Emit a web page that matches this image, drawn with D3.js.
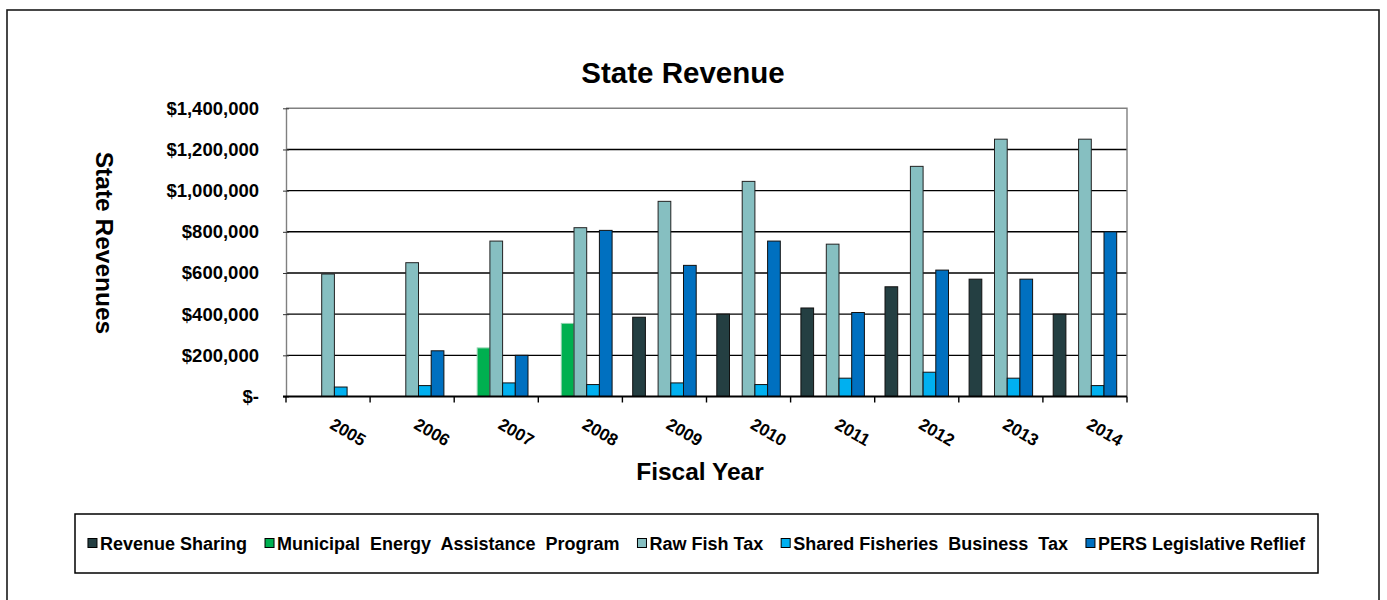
<!DOCTYPE html>
<html>
<head>
<meta charset="utf-8">
<script src="https://cdn.jsdelivr.net/npm/d3@7"></script>
<style>
  html, body { margin: 0; padding: 0; background: #fff; }
  svg { display: block; font-family: "Liberation Sans", Arial, sans-serif; font-weight: bold; }
</style>
</head>
<body>
<svg id="chart" width="1387" height="600"></svg>
<script>
// Fiscal years on the category axis
const years = ["2005", "2006", "2007", "2008", "2009", "2010", "2011", "2012", "2013", "2014"];

// State revenue by program (dollars); null = no payment that year
const revenueSharing = [null, null, null, null, 385000, 400000, 430000, 533000, 570000, 400000];
const energyAssistance = [null, null, 236000, 355000, null, null, null, null, null, null];
const rawFishTax = [595000, 650000, 755000, 820000, 948000, 1045000, 740000, 1118000, 1250000, 1250000];
const sharedFisheriesTax = [46000, 53000, 66000, 58000, 66000, 58000, 89000, 118000, 89000, 53000];
const persRelief = [null, 222000, 200000, 807000, 637000, 755000, 408000, 614000, 570000, 800000];

const seriesNames = ["Revenue Sharing", "Municipal  Energy  Assistance  Program", "Raw Fish Tax",
                     "Shared Fisheries  Business  Tax", "PERS Legislative Reflief"];
const seriesValues = [revenueSharing, energyAssistance, rawFishTax, sharedFisheriesTax, persRelief];
const seriesColors = ["#243F42", "#00B050", "#86BFC1", "#00B0F0", "#0070C0"];
const seriesStrokes = ["#111", "#8FD3AE", "#222", "#111", "#111"];

const yTicks = [0, 200000, 400000, 600000, 800000, 1000000, 1200000, 1400000];

const svg = d3.select("#chart");
const plot = { left: 286, right: 1127, top: 108.3, bottom: 396.5 };

// Outer chart frame
svg.append("rect")
  .attr("x", 7).attr("y", 10).attr("width", 1372).attr("height", 610)
  .attr("fill", "#fff").attr("stroke", "#1a1a1a").attr("stroke-width", 1.6);

const x = d3.scaleBand().domain(years).range([plot.left, plot.right])
  .paddingInner(0.245).paddingOuter(0.1225);
const xs = d3.scaleBand().domain(d3.range(seriesNames.length)).range([0, x.bandwidth()]);
const y = d3.scaleLinear().domain([0, 1400000]).range([plot.bottom, plot.top]);

// Title
svg.append("text")
  .attr("x", 683).attr("y", 83)
  .attr("text-anchor", "middle")
  .attr("font-size", 29.5)
  .text("State Revenue");

// Horizontal gridlines
svg.append("g").selectAll("line")
  .data(yTicks.filter(v => v > 0 && v < 1400000))
  .join("line")
  .attr("x1", plot.left).attr("x2", plot.right)
  .attr("y1", d => y(d)).attr("y2", d => y(d))
  .attr("stroke", "#000").attr("stroke-width", 1.4);

// Plot area border (top and right)
svg.append("path")
  .attr("d", `M${plot.left},${y(1400000)}H${plot.right}V${plot.bottom}`)
  .attr("fill", "none").attr("stroke", "#808080").attr("stroke-width", 1.4);

// Bars
const barData = [];
seriesValues.forEach((vals, s) => {
  vals.forEach((v, i) => {
    if (v != null) barData.push({ s, year: years[i], v });
  });
});
svg.append("g").selectAll("rect")
  .data(barData)
  .join("rect")
  .attr("x", d => x(d.year) + xs(d.s))
  .attr("width", xs.bandwidth())
  .attr("y", d => y(d.v))
  .attr("height", d => y(0) - y(d.v))
  .attr("fill", d => seriesColors[d.s])
  .attr("stroke", d => seriesStrokes[d.s])
  .attr("stroke-width", 1);

// Y axis
const yAxis = svg.append("g")
  .attr("transform", `translate(${plot.left},0)`)
  .call(d3.axisLeft(y)
    .tickValues(yTicks)
    .tickSizeInner(3).tickSizeOuter(0)
    .tickPadding(24)
    .tickFormat(d => d === 0 ? "$-" : d3.format("$,")(d)));
yAxis.select(".domain").attr("stroke", "#808080").attr("stroke-width", 1.4);
yAxis.selectAll(".tick line").attr("x1", 3).attr("x2", -3).attr("stroke", "#333");
yAxis.selectAll(".tick text")
  .attr("font-size", 18.5).attr("font-weight", "bold")
  .attr("font-family", "'Liberation Sans', Arial, sans-serif").attr("fill", "#000");

// X axis line and category boundary ticks
const boundaries = years.map(d => x(d) - x.step() * x.paddingOuter()).concat([plot.right]);
svg.append("g").selectAll("line")
  .data(boundaries)
  .join("line")
  .attr("x1", d => d).attr("x2", d => d)
  .attr("y1", plot.bottom).attr("y2", plot.bottom + 6)
  .attr("stroke", "#000").attr("stroke-width", 1.4);
svg.append("line")
  .attr("x1", plot.left - 3).attr("x2", plot.right)
  .attr("y1", plot.bottom).attr("y2", plot.bottom)
  .attr("stroke", "#000").attr("stroke-width", 2.2);

// Rotated year labels
svg.append("g").selectAll("text")
  .data(years)
  .join("text")
  .attr("transform", d => `translate(${x(d) + x.bandwidth() / 2 + 20},432) rotate(30)`)
  .attr("text-anchor", "middle")
  .attr("dy", "0.35em")
  .attr("font-size", 17)
  .text(d => d);

// Axis titles
svg.append("text")
  .attr("x", 700).attr("y", 480)
  .attr("text-anchor", "middle")
  .attr("font-size", 24.5)
  .text("Fiscal Year");

svg.append("text")
  .attr("transform", "translate(105,243) rotate(90)")
  .attr("text-anchor", "middle")
  .attr("dy", "0.35em")
  .attr("font-size", 24.5)
  .text("State Revenues");

// Legend
const legend = { x: 75, y: 514, w: 1243, h: 59 };
svg.append("rect")
  .attr("x", legend.x).attr("y", legend.y).attr("width", legend.w).attr("height", legend.h)
  .attr("fill", "#fff").attr("stroke", "#000").attr("stroke-width", 1.5);

const items = svg.append("g").selectAll("g")
  .data(seriesNames)
  .join("g");
items.append("rect")
  .attr("width", 9).attr("height", 9)
  .attr("y", -5)
  .attr("fill", (d, i) => seriesColors[i])
  .attr("stroke", "#000").attr("stroke-width", 1);
items.append("text")
  .attr("x", 12).attr("dy", "0.35em")
  .attr("font-size", 18)
  .attr("xml:space", "preserve")
  .style("white-space", "pre")
  .text(d => d);

const gap = 18;
const widths = [];
items.each(function () {
  widths.push(12 + d3.select(this).select("text").node().getComputedTextLength());
});
const total = d3.sum(widths) + gap * (widths.length - 1);
let cx = legend.x + (legend.w - total) / 2;
items.attr("transform", (d, i) => {
  const t = `translate(${cx},${legend.y + legend.h / 2})`;
  cx += widths[i] + gap;
  return t;
});
</script>
</body>
</html>
